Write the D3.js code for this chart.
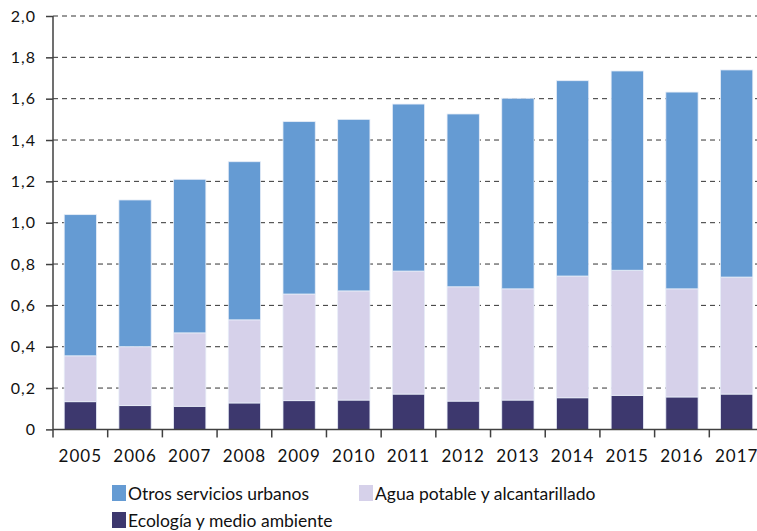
<!DOCTYPE html>
<html><head><meta charset="utf-8">
<script src="https://cdn.jsdelivr.net/npm/d3@7"></script>
<style>body{margin:0;background:#fff}svg{display:block}text{font-family:Lato,"Open Sans",sans-serif;fill:#111}</style>
</head><body><svg id="c" width="757" height="531"></svg>
<script>
const years = ["2005","2006","2007","2008","2009","2010","2011","2012","2013","2014","2015","2016","2017"];
const ecologia = [0.134,0.115,0.112,0.128,0.139,0.142,0.171,0.137,0.142,0.153,0.165,0.157,0.171];
const agua     = [0.222,0.285,0.355,0.402,0.516,0.528,0.595,0.553,0.538,0.589,0.605,0.523,0.566];
const otros    = [0.683,0.710,0.743,0.765,0.834,0.830,0.808,0.836,0.922,0.945,0.964,0.952,1.002];
const yTicks = [0,0.2,0.4,0.6,0.8,1.0,1.2,1.4,1.6,1.8,2.0];
const seriesNames = ["Ecología y medio ambiente","Agua potable y alcantarillado","Otros servicios urbanos"];
const colors = ["#3d386e","#d6d1ea","#659bd3"];

const svg = d3.select("#c");
const mLeft = 53, mRight = 764, mTop = 16, mBottom = 429.4;
const x = d3.scaleBand().domain(years).range([mLeft, mRight]).paddingInner(0.41).paddingOuter(0.205);
const xb = d3.scaleBand().domain(years).range([mLeft, mRight]);
const y = d3.scaleLinear().domain([0, 2.0]).range([mBottom, mTop]);

// gridlines
svg.append("g").selectAll("line").data(yTicks.filter(d => d > 0)).join("line")
  .attr("x1", mLeft).attr("x2", 757).attr("y1", d => y(d)).attr("y2", d => y(d))
  .attr("stroke", "#333").attr("stroke-width", 1).attr("stroke-dasharray", "5,4");

// stacked data
const rows = years.map((yr, i) => ({year: yr, s0: ecologia[i], s1: agua[i], s2: otros[i]}));
const stack = d3.stack().keys(["s0","s1","s2"])(rows);
svg.append("g").selectAll("g").data(stack).join("g")
  .attr("fill", (d, i) => colors[i])
  .selectAll("rect").data(d => d).join("rect")
  .attr("x", d => x(d.data.year)).attr("width", x.bandwidth())
  .attr("y", d => y(d[1])).attr("height", d => y(d[0]) - y(d[1]))
  .attr("stroke", "#e8eef8").attr("stroke-width", 0.8);

// y axis
const yAxis = d3.axisLeft(y).tickValues(yTicks).tickSize(7).tickPadding(10)
  .tickFormat(d => d === 0 ? "0" : d3.format(".1f")(d).replace(".", ","));
const ga = svg.append("g").attr("transform", `translate(${mLeft},0)`).call(yAxis);
ga.select(".domain").attr("stroke", "#404040").attr("stroke-width", 1.5).attr("d", `M0,${mTop}V${mBottom}`);
ga.selectAll(".tick line").attr("stroke", "#404040").attr("stroke-width", 1.5);
ga.selectAll(".tick text").attr("font-size", 16).attr("fill", "#111").attr("font-family", "Lato, sans-serif").attr("letter-spacing", 1);

// x axis
const gx = svg.append("g").attr("transform", `translate(0,${mBottom})`);
gx.append("line").attr("x1", mLeft).attr("x2", 757).attr("stroke", "#404040").attr("stroke-width", 1.5);
gx.selectAll("line.t").data(years).join("line").attr("class","t")
  .attr("x1", d => xb(d)).attr("x2", d => xb(d)).attr("y1", 0).attr("y2", 8)
  .attr("stroke", "#404040").attr("stroke-width", 1.5);
gx.selectAll("text").data(years).join("text")
  .attr("x", d => xb(d) + xb.bandwidth() / 2).attr("y", 33)
  .attr("text-anchor", "middle").attr("font-size", 17).attr("letter-spacing", 1).text(d => d);

// legend
const legend = [
  {name: seriesNames[2], color: colors[2], x: 112, y: 485},
  {name: seriesNames[1], color: colors[1], x: 359, y: 485},
  {name: seriesNames[0], color: colors[0], x: 112, y: 512}
];
const lg = svg.append("g").selectAll("g").data(legend).join("g")
  .attr("transform", d => `translate(${d.x},${d.y})`);
lg.append("rect").attr("width", 14).attr("height", 16).attr("fill", d => d.color);
lg.append("text").attr("x", 16).attr("y", 14.5).attr("font-size", 17.5).text(d => d.name);
</script></body></html>
